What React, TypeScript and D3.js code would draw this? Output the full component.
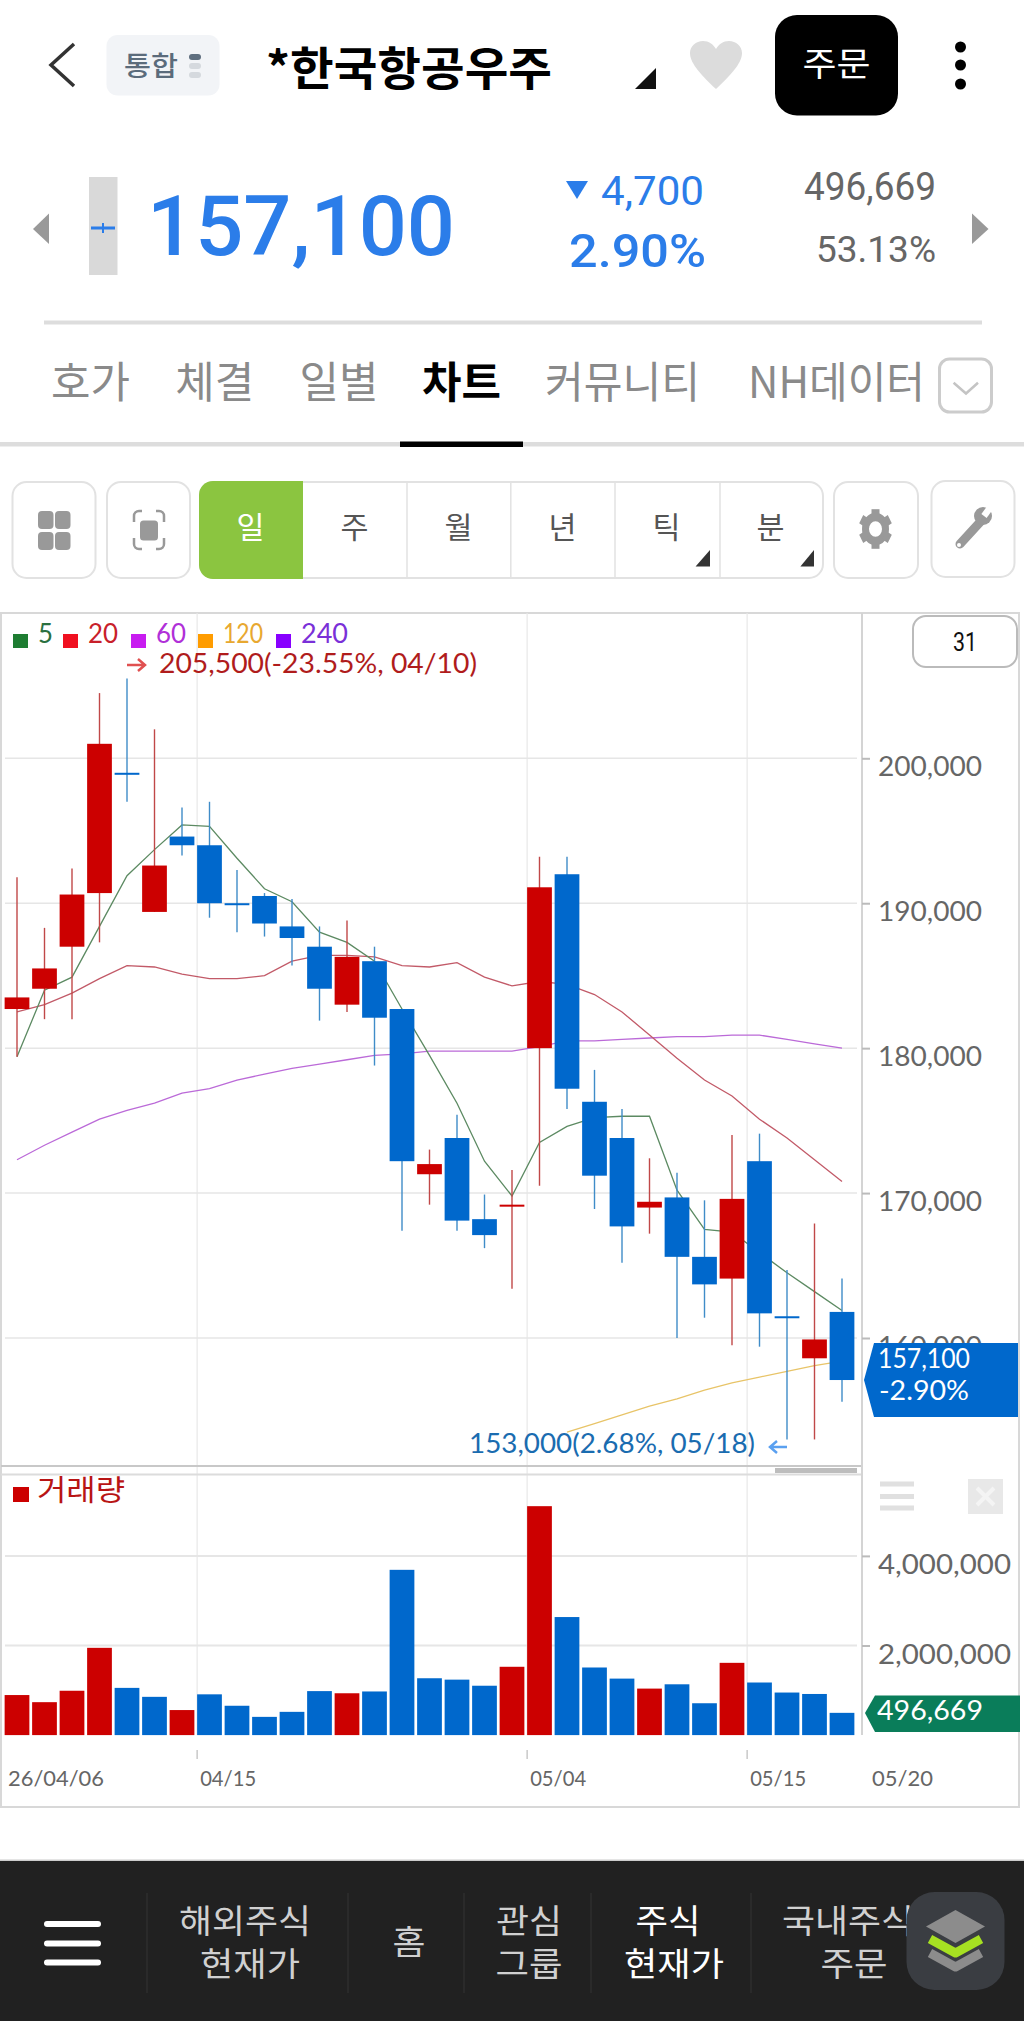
import React, { useEffect, useRef } from 'react'
import * as d3 from 'd3'

// daily candles, 26/04/06 .. 05/20
const opens = [182700, 184100, 187000, 190700, 199000, 189400, 194600, 194000, 190000, 190500, 188400, 187000, 183000, 186000, 182700, 171300, 173800, 168200, 169200, 180000, 192000, 176300, 173800, 169000, 169700, 165600, 164100, 172200, 161500, 158600, 161800]
const closes = [183500, 185500, 190600, 201000, 198900, 192600, 194000, 190000, 189900, 188600, 187600, 184100, 186300, 182100, 172200, 172000, 168100, 167100, 169200, 191100, 177200, 171200, 167700, 169400, 165600, 163700, 169600, 161700, 161400, 159900, 157100]
const highs = [191800, 188300, 192400, 204500, 205500, 202000, 196600, 197000, 192300, 190700, 190300, 188400, 188800, 187000, 182700, 173000, 175400, 169900, 171600, 193200, 193200, 178500, 175800, 172400, 171400, 169500, 174000, 174100, 164700, 167900, 164100]
const lows = [179400, 182000, 182000, 187300, 197000, 189400, 193300, 189000, 188000, 187700, 185700, 181900, 182500, 178800, 167400, 169200, 167400, 166200, 163400, 170500, 175800, 168900, 165200, 167200, 160000, 161400, 159500, 159400, 153000, 153000, 155600]

const ma5 = [179400, 184000, 184900, 188400, 191900, 193700, 195400, 195300, 193100, 191000, 190100, 188000, 187300, 186000, 182700, 179500, 176200, 172200, 169800, 173500, 174600, 175200, 175300, 175300, 170200, 167500, 167300, 165900, 164500, 163200, 161900]
const ma20 = [182500, 183000, 183800, 184800, 185700, 185600, 185100, 184800, 184800, 185000, 186000, 186400, 186400, 186300, 185700, 185600, 185900, 184900, 184300, 184600, 184400, 183700, 182500, 180900, 179300, 177800, 176700, 175100, 173800, 172300, 170800]
const ma60 = [172300, 173300, 174200, 175100, 175700, 176200, 176900, 177200, 177800, 178200, 178600, 178900, 179200, 179500, 179600, 179800, 179800, 179800, 179800, 180100, 180500, 180500, 180600, 180700, 180800, 180800, 180900, 180900, 180600, 180300, 180000]
const ma120 = [null, null, null, null, null, null, null, null, null, null, null, null, null, null, null, null, null, null, null, null, 153500, 154100, 154700, 155300, 155800, 156400, 156900, 157300, 157700, 158100, 158400]

const volumes = [894000, 735000, 990000, 1948000, 1054000, 854000, 559000, 910000, 655000, 407000, 519000, 982000, 934000, 974000, 3689000, 1269000, 1238000, 1102000, 1525000, 5110000, 2635000, 1509000, 1261000, 1038000, 1134000, 711000, 1613000, 1174000, 950000, 918000, 496669]
const volumeUp = [1, 1, 1, 1, 0, 0, 1, 0, 0, 0, 0, 0, 1, 0, 0, 0, 0, 0, 1, 1, 0, 0, 0, 1, 0, 0, 1, 0, 0, 0, 0]

const priceTicks = [200000, 190000, 180000, 170000, 160000]
const volumeTicks = [4000000, 2000000]
const dateTicks = [
  { i: 0, label: '26/04/06' },
  { i: 7, label: '04/15' },
  { i: 19, label: '05/04' },
  { i: 27, label: '05/15' },
]

const RED = '#cc0000'
const BLUE = '#0068cc'
const CHART_FONT = 'Lato, "Noto Sans", sans-serif'
const UI_FONT = '"Noto Sans CJK KR", sans-serif'
const NUM_FONT = 'Roboto, sans-serif'

const tabLabels = ['호가', '체결', '일별']
const periodLabels = ['일', '주', '월', '년', '틱', '분']

const T = ({ x, y, w, size, fill = '#000', weight = 400, anchor = 'start', font = UI_FONT, children }: any) => (
  <text
    x={x}
    y={y}
    fontSize={size}
    fill={fill}
    fontWeight={weight}
    fontFamily={font}
    textAnchor={anchor}
    textLength={w}
    lengthAdjust={w ? 'spacingAndGlyphs' : undefined}
  >
    {children}
  </text>
)

const Chart = () => {
  const ref = useRef<SVGGElement>(null)

  useEffect(() => {
    if (!ref.current) return
    const g = d3.select(ref.current)
    g.selectAll('*').remove()

    const n = closes.length
    const xScale = d3
      .scaleBand<number>()
      .domain(d3.range(n))
      .range([3.25, 855.75])
      .paddingInner(0.1)
      .paddingOuter(0.05)
    const cx = (i: number) => (xScale(i) as number) + xScale.bandwidth() / 2
    const yScale = d3.scaleLinear().domain([160000, 200000]).range([1338, 758.3])
    const vScale = d3.scaleLinear().domain([0, 4000000]).range([1735.1, 1555.9])

    const label = (x: number, y: number, w: number, size: number, fill: string, s: string) =>
      g
        .append('text')
        .attr('x', x)
        .attr('y', y)
        .attr('font-size', size)
        .attr('font-family', CHART_FONT)
        .attr('fill', fill)
        .attr('textLength', w)
        .attr('lengthAdjust', 'spacingAndGlyphs')
        .text(s)

    // frame
    g.append('rect')
      .attr('x', 1)
      .attr('y', 613)
      .attr('width', 1018)
      .attr('height', 1194)
      .attr('fill', '#fff')
      .attr('stroke', '#d8d8d8')
      .attr('stroke-width', 2)

    // vertical grid
    dateTicks.slice(1).forEach((d) => {
      const x = xScale(d.i) as number
      g.append('line').attr('x1', x).attr('x2', x).attr('y1', 613).attr('y2', 1735).attr('stroke', '#e8e8e8').attr('stroke-width', 1.2)
      g.append('line').attr('x1', x).attr('x2', x).attr('y1', 1750).attr('y2', 1759).attr('stroke', '#bbb').attr('stroke-width', 1.2)
    })

    // horizontal grid
    priceTicks.forEach((t) => {
      g.append('line').attr('x1', 5).attr('x2', 857).attr('y1', yScale(t)).attr('y2', yScale(t)).attr('stroke', '#e6e6e6').attr('stroke-width', 1.5)
    })
    volumeTicks.forEach((t) => {
      g.append('line').attr('x1', 5).attr('x2', 857).attr('y1', vScale(t)).attr('y2', vScale(t)).attr('stroke', '#e6e6e6').attr('stroke-width', 2)
    })

    // pane separator
    g.append('line').attr('x1', 1).attr('x2', 862).attr('y1', 1466).attr('y2', 1466).attr('stroke', '#c8c8c8').attr('stroke-width', 2)
    g.append('line').attr('x1', 1).attr('x2', 862).attr('y1', 1474.5).attr('y2', 1474.5).attr('stroke', '#dcdcdc').attr('stroke-width', 2)
    g.append('rect').attr('x', 775).attr('y', 1468).attr('width', 82).attr('height', 5).attr('fill', '#bdbdbd')

    // axes
    g.append('line').attr('x1', 862).attr('x2', 862).attr('y1', 613).attr('y2', 1735).attr('stroke', '#d4d4d4').attr('stroke-width', 2)
    const priceAxis = d3.axisRight(yScale).tickValues(priceTicks).tickSize(8).tickFormat((d) => d3.format(',')(Number(d)))
    const pa = g.append('g').attr('transform', 'translate(862,0)').call(priceAxis)
    const volAxis = d3.axisRight(vScale).tickValues(volumeTicks).tickSize(8).tickFormat((d) => d3.format(',')(Number(d)))
    const va = g.append('g').attr('transform', 'translate(862,0)').call(volAxis)
    pa.selectAll('.domain').remove()
    va.selectAll('.domain').remove()
    pa.selectAll('.tick line').attr('stroke', '#bbb').attr('stroke-width', 2)
    va.selectAll('.tick line').attr('stroke', '#bbb').attr('stroke-width', 2)
    pa.selectAll('.tick text')
      .attr('x', 16)
      .attr('y', 17)
      .attr('dy', 0)
      .attr('font-size', 26)
      .attr('font-family', CHART_FONT)
      .attr('fill', '#666')
      .attr('textLength', 104)
      .attr('lengthAdjust', 'spacingAndGlyphs')
    va.selectAll('.tick text')
      .attr('x', 16)
      .attr('y', 18)
      .attr('dy', 0)
      .attr('font-size', 26)
      .attr('font-family', CHART_FONT)
      .attr('fill', '#666')
      .attr('textLength', 133)
      .attr('lengthAdjust', 'spacingAndGlyphs')

    // moving averages sit under the candles
    const line = d3
      .line<number | null>()
      .defined((d) => d !== null)
      .x((_d, i) => cx(i))
      .y((d) => yScale(d as number))
    const maLines: [(number | null)[], string][] = [
      [ma120, '#e8c468'],
      [ma60, '#bb6ad8'],
      [ma20, '#c25a68'],
      [ma5, '#5c8a62'],
    ]
    maLines.forEach(([values, color]) => {
      g.append('path').attr('d', line(values)).attr('fill', 'none').attr('stroke', color).attr('stroke-width', 1.3)
    })

    // candles
    const idx = d3.range(n)
    g.append('g')
      .selectAll('line')
      .data(idx)
      .enter()
      .append('line')
      .attr('x1', cx)
      .attr('x2', cx)
      .attr('y1', (i) => yScale(highs[i]))
      .attr('y2', (i) => yScale(lows[i]))
      .attr('stroke', (i) => (closes[i] >= opens[i] ? '#c04848' : '#3f8cc8'))
      .attr('stroke-width', 1.4)
    g.append('g')
      .selectAll('rect')
      .data(idx)
      .enter()
      .append('rect')
      .attr('x', (i) => xScale(i) as number)
      .attr('width', xScale.bandwidth())
      .attr('y', (i) => yScale(Math.max(opens[i], closes[i])))
      .attr('height', (i) => Math.max(2, Math.abs(yScale(opens[i]) - yScale(closes[i]))))
      .attr('fill', (i) => (closes[i] >= opens[i] ? RED : BLUE))

    // volume bars
    g.append('g')
      .selectAll('rect')
      .data(idx)
      .enter()
      .append('rect')
      .attr('x', (i) => xScale(i) as number)
      .attr('width', xScale.bandwidth())
      .attr('y', (i) => vScale(volumes[i]))
      .attr('height', (i) => vScale(0) - vScale(volumes[i]))
      .attr('fill', (i) => (volumeUp[i] ? RED : BLUE))

    // date labels
    dateTicks.forEach((d) => {
      const x = d.i === 0 ? 8 : (xScale(d.i) as number) + 3
      label(x, 1786, d.i === 0 ? 96 : 56, 22, '#666', d.label)
    })
    label(872, 1786, 61, 22, '#666', '05/20')

    // legend
    const legend: [string, string, string, number, number, number][] = [
      ['5', '#1e7d32', '#2a7040', 13, 38, 15],
      ['20', '#f01020', '#c8202a', 63, 88, 30],
      ['60', '#c81cf0', '#b030d8', 131, 156, 30],
      ['120', '#ff9c00', '#e8a830', 198, 223, 40],
      ['240', '#8800ff', '#7a30d8', 276, 301, 47],
    ]
    legend.forEach(([s, square, color, sx, tx, w]) => {
      g.append('rect').attr('x', sx).attr('y', 634).attr('width', 15).attr('height', 14).attr('fill', square)
      label(tx, 643, w, 27, color, s)
    })

    // high / low callouts
    const arrow = (x1: number, x2: number, y: number, color: string) => {
      const dir = x2 > x1 ? -1 : 1
      g.append('path')
        .attr('d', `M${x1} ${y}L${x2} ${y}M${x2 + dir * 7} ${y - 6}L${x2} ${y}L${x2 + dir * 7} ${y + 6}`)
        .attr('fill', 'none')
        .attr('stroke', color)
        .attr('stroke-width', 2.5)
    }
    arrow(127, 145, 665, '#e05050')
    label(159, 673, 318, 26, '#b01c1c', '205,500(-23.55%, 04/10)')
    label(469, 1453, 286, 26, '#1a6cb0', '153,000(2.68%, 05/18)')
    arrow(787, 770, 1447, '#5aa0f0')

    // last price tag
    g.append('path').attr('d', 'M874 1343H1018V1417H874L864 1380Z').attr('fill', BLUE)
    label(878, 1368, 92, 26, '#fff', '157,100')
    label(879, 1400, 90, 26, '#fff', '-2.90%')

    // volume legend + tag
    g.append('rect').attr('x', 13).attr('y', 1487).attr('width', 16).attr('height', 15).attr('fill', RED)
    g.append('text').attr('x', 37).attr('y', 1501).attr('font-size', 29).attr('font-family', UI_FONT).attr('fill', '#b81414').attr('textLength', 88).attr('lengthAdjust', 'spacingAndGlyphs').text('거래량')
    g.append('path').attr('d', 'M875 1695.5H1020V1732H875L865 1713Z').attr('fill', '#0a7d5a')
    label(877, 1720, 106, 26, '#fff', '496,669')

    // pane controls
    ;[1481.5, 1494, 1505.5].forEach((y) => {
      g.append('rect').attr('x', 880).attr('y', y).attr('width', 34).attr('height', 5).attr('fill', '#e0e0e0')
    })
    g.append('rect').attr('x', 968).attr('y', 1479).attr('width', 35).attr('height', 35).attr('fill', '#e8e8e8')
    g.append('path').attr('d', 'M977 1488L994 1505M994 1488L977 1505').attr('stroke', '#f4f4f4').attr('stroke-width', 4)

    // period count box
    g.append('rect').attr('x', 913).attr('y', 616).attr('width', 104).attr('height', 51).attr('rx', 13).attr('fill', '#fff').attr('stroke', '#bbb').attr('stroke-width', 2)
    g.append('text').attr('x', 965).attr('y', 651).attr('text-anchor', 'middle').attr('font-size', 26).attr('font-family', NUM_FONT).attr('fill', '#111').attr('textLength', 24).attr('lengthAdjust', 'spacingAndGlyphs').text('31')
  }, [])

  return <g ref={ref} />
}

const Header = () => (
  <g>
    <polyline points="74,44 51,65 74,86" fill="none" stroke="#333" strokeWidth={3.5} />
    <rect x={106.5} y={35} width={113} height={60.5} rx={11} fill="#f2f4f7" />
    <T x={124} y={76} w={54} size={27} fill="#5b6b7b" weight={500}>통합</T>
    <rect x={189} y={54} width={12} height={6} rx={3} fill="#5f6f7f" />
    <rect x={189} y={63} width={12} height={6} rx={3} fill="#d5d9de" />
    <rect x={189} y={72} width={12} height={6} rx={3} fill="#d5d9de" />
    <T x={266} y={85} w={286} size={46} weight={700}>*한국항공우주</T>
    <path d="M635 89H656V68Z" fill="#111" />
    <path d="M716 89C698 72 690 62 690 53C690 46 696 41 703 41C709 41 713 44 716 49C719 44 723 41 729 41C736 41 742 46 742 53C742 62 734 72 716 89Z" fill="#dcdcdc" />
    <rect x={775} y={15} width={123} height={100.5} rx={22} fill="#000" />
    <T x={836.5} y={76} w={68} size={33} fill="#fff" anchor="middle" weight={400}>주문</T>
    <circle cx={960.5} cy={47} r={5.5} fill="#000" />
    <circle cx={960.5} cy={65} r={5.5} fill="#000" />
    <circle cx={960.5} cy={84} r={5.5} fill="#000" />

    {/* price row */}
    <path d="M33 229L49 213.5V244Z" fill="#999" />
    <path d="M988.5 229L972 213.5V244Z" fill="#999" />
    <rect x={89} y={177} width={28.5} height={98} fill="#d9d9d9" />
    <rect x={91} y={226.5} width={24} height={3} fill="#2b7de9" />
    <rect x={102} y={223} width={2} height={10} fill="#2b7de9" />
    <T x={147} y={254.5} w={308} size={84} fill="#2b7de9" weight={500} font={NUM_FONT}>157,100</T>
    <path d="M566 181H588L577 199Z" fill="#2b7de9" />
    <T x={601} y={204.5} w={103} size={40} fill="#2b7de9" font={NUM_FONT}>4,700</T>
    <T x={569} y={267} w={137} size={47} fill="#2b7de9" weight={500} font={NUM_FONT}>2.90%</T>
    <T x={804} y={199.5} w={132} size={39} fill="#666" font={NUM_FONT}>496,669</T>
    <T x={816} y={262} w={120} size={37} fill="#666" font={NUM_FONT}>53.13%</T>
    <rect x={44} y={320.5} width={938} height={4} fill="#ddd" />

    {/* tabs */}
    {tabLabels.map((s, i) => (
      <T key={s} x={51 + i * 124.2} y={398} w={79} size={43} fill="#8a8a8a">{s}</T>
    ))}
    <T x={422} y={398} w={79} size={43} weight={700}>차트</T>
    <T x={545} y={398} w={155} size={43} fill="#8a8a8a">커뮤니티</T>
    <T x={748} y={398} w={177} size={43} fill="#8a8a8a">NH데이터</T>
    <rect x={939.5} y={359} width={52} height={53} rx={10} fill="#fff" stroke="#ccc" strokeWidth={3} />
    <polyline points="953.6,382.7 966,393.5 978,382.7" fill="none" stroke="#c4c4c4" strokeWidth={2.5} />
    <rect x={0} y={442} width={1024} height={4.5} fill="#ddd" />
    <rect x={400} y={441.5} width={123} height={5.5} fill="#000" />

    {/* toolbar */}
    <rect x={12.5} y={482} width={83} height={96} rx={14} fill="#fff" stroke="#e2e2e2" strokeWidth={2} />
    <rect x={107} y={482} width={83} height={96} rx={14} fill="#fff" stroke="#e2e2e2" strokeWidth={2} />
    <rect x={200} y={482} width={623} height={96} rx={14} fill="#fff" stroke="#e2e2e2" strokeWidth={2} />
    <path d="M303 481H213A14 14 0 0 0 199 495V565A14 14 0 0 0 213 579H303Z" fill="#8bc540" />
    {[407, 510.8, 615, 720].map((x) => (
      <line key={x} x1={x} x2={x} y1={482} y2={578} stroke="#e2e2e2" strokeWidth={1.5} />
    ))}
    {periodLabels.map((s, i) => (
      <T key={s} x={250.5 + i * 104} y={538} size={30} fill={i === 0 ? '#fff' : '#555'} anchor="middle" w={28}>{s}</T>
    ))}
    <path d="M695.6 566.4H710V550Z" fill="#333" />
    <path d="M800.4 566.4H814V550Z" fill="#333" />
    <rect x={834} y={482} width={84} height={96} rx={14} fill="#fff" stroke="#e2e2e2" strokeWidth={2} />
    <rect x={931.5} y={481} width={83} height={96} rx={14} fill="#fff" stroke="#e2e2e2" strokeWidth={2} />
    {[38, 55].map((x) =>
      [511, 532].map((y) => <rect key={`${x}-${y}`} x={x} y={y} width={15.5} height={18} rx={4} fill="#999" />)
    )}
    <rect x={140} y={520.5} width={18} height={20} rx={3.5} fill="#999" />
    <path d="M134 522V516A5 5 0 0 1 139 511H142M156 511H159A5 5 0 0 1 164 516V522M164 538V544A5 5 0 0 1 159 549H156M142 549H139A5 5 0 0 1 134 544V538" fill="none" stroke="#999" strokeWidth={2.5} />
    <g transform="translate(875.5,529) scale(1,1.2)">
      <circle r={10} fill="none" stroke="#999" strokeWidth={7} />
      {d3.range(6).map((i) => (
        <rect key={i} x={-4} y={-16.5} width={8} height={6} fill="#999" transform={`rotate(${i * 60})`} />
      ))}
    </g>
    <line x1={960} y1={544} x2={982} y2={520} stroke="#999" strokeWidth={9} strokeLinecap="round" />
    <circle cx={983} cy={516} r={9} fill="#999" />
    <line x1={984} y1={516} x2={992} y2={505} stroke="#fff" strokeWidth={6.5} />
    <circle cx={959} cy={545} r={2} fill="#fff" />
  </g>
)

const BottomNav = () => (
  <g>
    <rect x={0} y={1860.5} width={1024} height={160.5} fill="#212121" />
    <rect x={0} y={1859.5} width={1024} height={1.5} fill="#ccc" />
    {[147, 348, 464, 591, 751].map((x) => (
      <line key={x} x1={x} x2={x} y1={1893} y2={1993} stroke="#2e2e2e" strokeWidth={1.5} />
    ))}
    {[1924, 1943.5, 1962.5].map((y) => (
      <rect key={y} x={44} y={y - 3} width={57} height={6} rx={3} fill="#fff" />
    ))}
    <T x={245} y={1933} w={132} size={33} fill="#d0d0d0" anchor="middle">해외주식</T>
    <T x={250} y={1976} w={100} size={33} fill="#d0d0d0" anchor="middle">현재가</T>
    <T x={409} y={1954} w={33} size={33} fill="#d0d0d0" anchor="middle">홈</T>
    <T x={529} y={1933} w={66} size={33} fill="#d0d0d0" anchor="middle">관심</T>
    <T x={529} y={1976} w={67} size={33} fill="#d0d0d0" anchor="middle">그룹</T>
    <T x={668} y={1933} w={65} size={33} fill="#fff" anchor="middle">주식</T>
    <T x={674} y={1976} w={100} size={33} fill="#fff" anchor="middle">현재가</T>
    <T x={782} y={1933} w={132} size={33} fill="#d0d0d0">국내주식</T>
    <T x={854} y={1976} w={67} size={33} fill="#d0d0d0" anchor="middle">주문</T>
    <rect x={906.5} y={1892} width={98} height={98} rx={28} fill="#3a3d42" />
    <path d="M955.5 1910L985 1926.5L955.5 1943L926 1926.5Z" fill="#8c8c8c" />
    <path d="M930 1953L955.5 1967L981 1953" fill="none" stroke="#8c8c8c" strokeWidth={9} strokeLinejoin="round" />
    <path d="M930 1939L955.5 1953L981 1939" fill="none" stroke="#a6e022" strokeWidth={9} strokeLinejoin="round" />
  </g>
)

export default function App() {
  return (
    <svg
      width={1024}
      height={2021}
      viewBox="0 0 1024 2021"
      style={{ position: 'absolute', left: 0, top: 0, display: 'block', background: '#fff' }}
    >
      <Header />
      <Chart />
      <BottomNav />
    </svg>
  )
}
